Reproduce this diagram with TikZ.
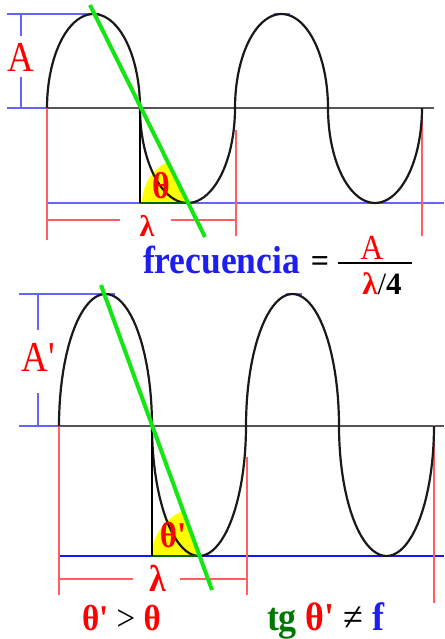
\documentclass[tikz,border=0pt]{standalone}
\usepackage{fontspec}
\setmainfont{Liberation Serif}
\definecolor{wavecol}{RGB}{25,25,25}
\definecolor{axiscol}{RGB}{85,85,85}
\definecolor{dimred}{RGB}{255,95,95}
\definecolor{dimblue}{RGB}{100,100,255}
\definecolor{baseblue}{RGB}{20,20,255}
\definecolor{slopegreen}{RGB}{20,230,20}
\definecolor{txtred}{RGB}{255,0,0}
\definecolor{txtblue}{RGB}{30,30,240}
\definecolor{txtgreen}{RGB}{0,120,0}
\definecolor{fillyellow}{RGB}{255,255,0}
\definecolor{legdark}{RGB}{0,100,0}
\begin{document}
\begin{tikzpicture}[x=1pt,y=-1pt,
  wave/.style={draw=wavecol,line width=2.2pt},
  axisline/.style={draw=axiscol,line width=1.5pt},
  dimr/.style={draw=dimred,line width=1.1pt},
  dimb/.style={draw=dimblue,line width=1.2pt},
  baseb/.style={draw=baseblue,line width=2.2pt},
  slopeline/.style={draw=slopegreen,line width=4pt},
  legline/.style={draw=black,line width=2.8pt},
  anglefill/.style={fill=fillyellow},
  anglebase/.style={draw=legdark,line width=2pt},
  lbl/.style={inner sep=0pt,outer sep=0pt},
]
\useasboundingbox (0,0) rectangle (444,639);
\fill[white] (0,0) rectangle (444,639);

% ================= TOP PANEL =================
\fill[anglefill] (188,203) -- plot[domain=116.8:180,samples=30,variable=\t] ({188+46*cos(\t)},{203-46*sin(\t)}) -- cycle;
\draw[axisline] (47,108) -- (434,108);
\draw[dimb] (7,14) -- (100,14);
\draw[dimb] (274,14) -- (290,14);
\draw[dimb] (21,14) -- (21,36);
\draw[dimb] (21,77) -- (21,108);
\draw[dimb] (7,108) -- (47,108);
\draw[dimb] (47,203) -- (444,203);
\draw[dimr] (47,108) -- (47,240);
\draw[dimr] (236,130) -- (236,236);
\draw[dimr] (422,108) -- (422,236);
\draw[dimr] (47,220) -- (120,220);
\draw[dimr] (171,220) -- (236,220);
\draw[wave] plot[domain=180:0,samples=45,variable=\t] ({93.5+46.5*cos(\t)},{108-94*sin(\t)})
  -- plot[domain=180:360,samples=45,variable=\t] ({187.5+47.5*cos(\t)},{108-95*sin(\t)})
  -- plot[domain=180:0,samples=45,variable=\t] ({281.5+46.5*cos(\t)},{108-94*sin(\t)})
  -- plot[domain=180:360,samples=45,variable=\t] ({375+47*cos(\t)},{108-95*sin(\t)});
\coordinate (tleg) at (140,108);
\coordinate (tlegb) at (140,203);
\coordinate (tvert) at (188,203);
\draw[anglebase] (tlegb) -- (tvert);
\draw[legline] (tleg) -- (tlegb);
\coordinate (tg1) at (90,5);
\coordinate (tg2) at (205,237);
\draw[slopeline] (tg1) -- (tg2);
\node[lbl,text=txtred] (labA) at (21,57.5) {\scalebox{1}[1.15]{\fontsize{37}{37}\selectfont A}};
\node[lbl,text=txtred] (labth) at (161,186) {\scalebox{1}[1.1]{\fontsize{34}{34}\selectfont\bfseries θ}};
\node[lbl,text=txtred] (lablam) at (147,226) {\fontsize{30}{30}\selectfont\bfseries λ};

% formula
\node[lbl,anchor=base west,text=txtblue] (freq) at (143,273) {\scalebox{1}[1.1]{\fontsize{35.5}{35.5}\selectfont\bfseries frecuencia}};
\node[lbl,text=black] (eq) at (320,264) {\fontsize{32}{32}\selectfont\bfseries =};
\coordinate (fr1) at (338,263);
\coordinate (fr2) at (412,263);
\draw[draw=black,line width=2.2pt] (fr1) -- (fr2);
\node[lbl,text=txtred] (fracA) at (372,248) {\scalebox{1}[1.1]{\fontsize{32}{32}\selectfont A}};
\node[lbl,anchor=base] (fracB) at (382,294) {\fontsize{31}{31}\selectfont\bfseries{\color{txtred}λ}\mdseries/\bfseries 4};

% ================= BOTTOM PANEL =================
\fill[anglefill] (200,556) -- plot[domain=110.3:180,samples=30,variable=\t] ({200+48*cos(\t)},{556-48*sin(\t)}) -- cycle;
\draw[axisline] (59,426) -- (444,426);
\draw[dimb] (19,294) -- (115,294);
\draw[dimb] (286,294) -- (302,294);
\draw[dimb] (38,294) -- (38,330);
\draw[dimb] (38,393) -- (38,426);
\draw[dimb] (19,426) -- (59,426);
\draw[baseb] (58,556) -- (444,556);
\draw[dimr] (59,426) -- (59,595);
\draw[dimr] (247,457) -- (247,595);
\draw[dimr] (434,425) -- (434,603);
\draw[dimr] (59,579) -- (133,579);
\draw[dimr] (180,579) -- (247,579);
\draw[wave] plot[domain=180:0,samples=45,variable=\t] ({105.5+46.5*cos(\t)},{426-132*sin(\t)})
  -- plot[domain=180:360,samples=45,variable=\t] ({199+47*cos(\t)},{426-130*sin(\t)})
  -- plot[domain=180:0,samples=45,variable=\t] ({292.5+46.5*cos(\t)},{426-132*sin(\t)})
  -- plot[domain=180:360,samples=45,variable=\t] ({386.5+47.5*cos(\t)},{426-130*sin(\t)});
\coordinate (bleg) at (152,426);
\coordinate (blegb) at (152,556);
\coordinate (bvert) at (200,556);
\draw[anglebase] (blegb) -- (bvert);
\draw[legline] (bleg) -- (blegb);
\coordinate (bg1) at (101,285);
\coordinate (bg2) at (212,590);
\draw[slopeline] (bg1) -- (bg2);
\node[lbl,text=txtred] (labAp) at (38,357.5) {\scalebox{1}[1.15]{\fontsize{37}{37}\selectfont A\textquotesingle}};
\node[lbl,text=txtred] (labthp) at (173,535) {\scalebox{1}[1.1]{\fontsize{33}{33}\selectfont\bfseries θ\textquotesingle}};
\node[lbl,text=txtred] (lablamp) at (158,578) {\scalebox{1}[1.1]{\fontsize{34}{34}\selectfont\bfseries λ}};

\node[lbl,anchor=base west] (cmp) at (82,630) {\scalebox{1}[1.1]{\fontsize{33}{33}\selectfont\bfseries{\color{txtred}θ\textquotesingle} \mdseries > \bfseries{\color{txtred}θ}}};
\node[lbl,anchor=base west] (tgn) at (267,630) {\scalebox{1}[1.1]{\fontsize{36}{36}\selectfont\bfseries{\color{txtgreen}tg} {\color{txtred}θ\textquotesingle} \mdseries≠ \bfseries{\color{txtblue}f}}};
\end{tikzpicture}
\end{document}
